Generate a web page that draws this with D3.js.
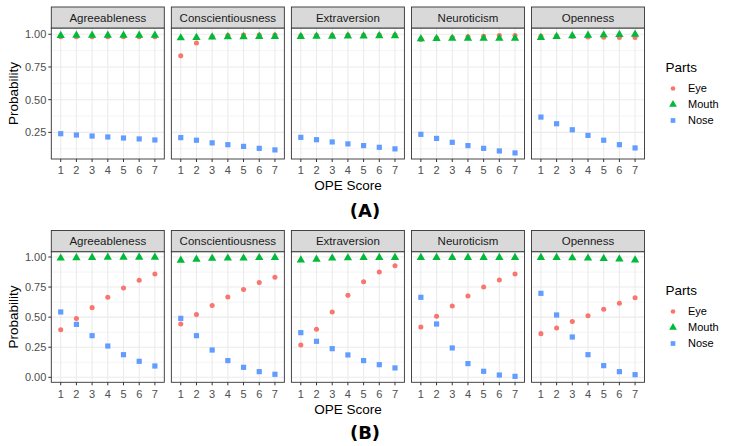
<!DOCTYPE html>
<html><head><meta charset="utf-8">
<script src="https://cdn.jsdelivr.net/npm/d3@7"></script>
<style>body{margin:0;background:#fff}svg{display:block}</style>
</head><body>
<script>
const traits = ["Agreeableness","Conscientiousness","Extraversion","Neuroticism","Openness"];
const scores = ["1","2","3","4","5","6","7"];
const parts = ["Eye","Mouth","Nose"];
const yTicksA = [0.25,0.50,0.75,1.00];
const yTicksB = [0.00,0.25,0.50,0.75,1.00];

// Panel A values [trait][score]
const eyeA = [
  [0.982,0.982,0.982,0.982,0.982,0.982,0.982],
  [0.835,0.934,0.980,0.990,0.995,0.995,0.995],
  [0.988,0.990,0.990,0.992,0.993,0.994,0.995],
  [0.960,0.970,0.975,0.980,0.985,0.990,0.990],
  [0.985,0.985,0.983,0.980,0.978,0.976,0.975]
];
const mouthA = [
  [0.990,0.992,0.992,0.992,0.992,0.992,0.992],
  [0.972,0.975,0.978,0.980,0.980,0.982,0.982],
  [0.982,0.985,0.985,0.987,0.987,0.988,0.988],
  [0.965,0.967,0.968,0.968,0.968,0.968,0.968],
  [0.975,0.982,0.988,0.992,0.995,0.998,1.000]
];
const noseA = [
  [0.240,0.230,0.222,0.215,0.207,0.200,0.192],
  [0.210,0.190,0.170,0.156,0.143,0.128,0.116],
  [0.212,0.194,0.177,0.162,0.149,0.136,0.124],
  [0.235,0.204,0.174,0.149,0.128,0.108,0.093],
  [0.367,0.316,0.270,0.227,0.190,0.156,0.131]
];
// Panel B values
const eyeB = [
  [0.396,0.488,0.579,0.665,0.742,0.806,0.859],
  [0.443,0.521,0.596,0.668,0.729,0.787,0.831],
  [0.269,0.399,0.543,0.681,0.795,0.875,0.928],
  [0.418,0.507,0.593,0.676,0.751,0.809,0.859],
  [0.363,0.410,0.463,0.512,0.565,0.615,0.662]
];
const mouthB = [
  [0.990,0.993,0.995,0.997,0.998,0.998,0.998],
  [0.972,0.980,0.988,0.990,0.990,0.994,0.995],
  [0.975,0.980,0.990,0.992,0.994,0.995,0.996],
  [0.995,0.995,0.995,0.995,0.995,0.995,0.995],
  [0.996,0.995,0.992,0.990,0.986,0.982,0.975]
];
const noseB = [
  [0.543,0.440,0.346,0.260,0.188,0.133,0.094],
  [0.490,0.346,0.227,0.139,0.083,0.047,0.025],
  [0.371,0.299,0.238,0.186,0.139,0.105,0.078],
  [0.665,0.443,0.244,0.114,0.050,0.019,0.008],
  [0.698,0.518,0.335,0.188,0.097,0.047,0.022]
];

const colors = {Eye:"#F8766D", Mouth:"#00BA38", Nose:"#619CFF"};
const W = 733, H = 446;
const svg = d3.select("body").append("svg").attr("width",W).attr("height",H)
  .style("font-family","'Liberation Sans', Arial, Helvetica, sans-serif");

const panelX0 = 51.3, panelW = 113, panelStep = 120.05;

function symbolPath(part, size){
  const t = part==="Eye"?d3.symbolCircle:part==="Mouth"?d3.symbolTriangle:d3.symbolSquare;
  return d3.symbol().type(t).size(size)();
}

function drawBlock(cfg){
  const {top, stripH, bottom, domain, yTicks, data, label, labelY, legendY} = cfg;
  const g = svg.append("g");
  const y = d3.scaleLinear().domain(domain).range([bottom, top+stripH]);
  const minor = [];
  for(let i=0;i<yTicks.length-1;i++) minor.push((yTicks[i]+yTicks[i+1])/2);
  const lowMinor = yTicks[0]-0.125;
  if(lowMinor>domain[0]) minor.push(lowMinor);

  traits.forEach((tr,ti)=>{
    const x0 = panelX0 + ti*panelStep;
    const x = d3.scalePoint().domain(scores).range([x0, x0+panelW]).padding(0.6);
    const p = g.append("g");
    p.append("rect").attr("x",x0).attr("y",top+stripH).attr("width",panelW).attr("height",bottom-top-stripH).attr("fill","#fff");
    // minor grid
    p.selectAll(".mn").data(minor).join("line")
      .attr("x1",x0).attr("x2",x0+panelW).attr("y1",d=>y(d)).attr("y2",d=>y(d))
      .attr("stroke","#EBEBEB").attr("stroke-width",0.55);
    p.selectAll(".mj").data(yTicks).join("line")
      .attr("x1",x0).attr("x2",x0+panelW).attr("y1",d=>y(d)).attr("y2",d=>y(d))
      .attr("stroke","#EBEBEB").attr("stroke-width",1.07);
    p.selectAll(".vx").data(scores).join("line")
      .attr("x1",d=>x(d)).attr("x2",d=>x(d)).attr("y1",top+stripH).attr("y2",bottom)
      .attr("stroke","#EBEBEB").attr("stroke-width",1.07);
    // points
    parts.forEach(pt=>{
      const arr = data[pt][ti];
      const sz = pt==="Mouth"?30:pt==="Nose"?27:20;
      p.selectAll(".pt"+pt).data(arr).join("path")
        .attr("d",symbolPath(pt,sz))
        .attr("transform",(d,i)=>`translate(${x(scores[i])},${y(d)})`)
        .attr("fill",colors[pt]);
    });
    // panel border
    p.append("rect").attr("x",x0).attr("y",top+stripH).attr("width",panelW).attr("height",bottom-top-stripH)
      .attr("fill","none").attr("stroke","#333").attr("stroke-width",0.9);
    // strip
    p.append("rect").attr("x",x0).attr("y",top).attr("width",panelW).attr("height",stripH)
      .attr("fill","#D9D9D9").attr("stroke","#333").attr("stroke-width",0.9);
    p.append("text").attr("x",x0+panelW/2).attr("y",top+stripH/2).attr("dy","0.35em")
      .attr("text-anchor","middle").attr("font-size",11.5).attr("fill","#1A1A1A").text(tr);
    // x axis ticks
    p.selectAll(".xt").data(scores).join("line")
      .attr("x1",d=>x(d)).attr("x2",d=>x(d)).attr("y1",bottom).attr("y2",bottom+3)
      .attr("stroke","#333").attr("stroke-width",1);
    p.selectAll(".xl").data(scores).join("text")
      .attr("x",d=>x(d)).attr("y",bottom+11.5).attr("dy","0.35em").attr("text-anchor","middle")
      .attr("font-size",11).attr("fill","#4D4D4D").text(d=>d);
  });
  // y axis
  g.selectAll(".yt").data(yTicks).join("line")
    .attr("x1",panelX0-3).attr("x2",panelX0).attr("y1",d=>y(d)).attr("y2",d=>y(d))
    .attr("stroke","#333").attr("stroke-width",1);
  g.selectAll(".yl").data(yTicks).join("text")
    .attr("x",panelX0-5).attr("y",d=>y(d)).attr("dy","0.35em").attr("text-anchor","end")
    .attr("font-size",11).attr("fill","#4D4D4D").text(d=>d.toFixed(2));
  const midY = (top+stripH+bottom)/2;
  g.append("text").attr("transform",`translate(13,${midY}) rotate(-90)`).attr("dy","0.35em")
    .attr("text-anchor","middle").attr("font-size",13.5).attr("fill","#000").text("Probability");
  g.append("text").attr("x",panelX0 + (4*panelStep+panelW)/2).attr("y",bottom+26.5).attr("dy","0.35em")
    .attr("text-anchor","middle").attr("font-size",13.5).attr("fill","#000").text("OPE Score");
  g.append("text").attr("x",365).attr("y",labelY).attr("dy","0.35em")
    .attr("text-anchor","middle").attr("font-size",18).attr("font-weight","bold")
    .attr("font-family","'DejaVu Sans', sans-serif").attr("fill","#000").text(label);
  // legend
  const lg = g.append("g");
  lg.append("text").attr("x",665.5).attr("y",legendY).attr("dy","0.35em")
    .attr("font-size",13.5).attr("fill","#000").text("Parts");
  parts.forEach((pt,i)=>{
    const ly = legendY + 21.5 + i*16;
    lg.append("path").attr("d",symbolPath(pt, pt==="Mouth"?26:pt==="Nose"?22:17))
      .attr("transform",`translate(673,${ly})`).attr("fill",colors[pt]);
    lg.append("text").attr("x",688).attr("y",ly).attr("dy","0.35em")
      .attr("font-size",11).attr("fill","#000").text(pt);
  });
}

drawBlock({top:7, stripH:21, bottom:159, domain:[0.0465,1.048], yTicks:yTicksA,
  data:{Eye:eyeA, Mouth:mouthA, Nose:noseA}, label:"(A)", labelY:211, legendY:67});
drawBlock({top:230.5, stripH:21.2, bottom:382.3, domain:[-0.0415,1.044], yTicks:yTicksB,
  data:{Eye:eyeB, Mouth:mouthB, Nose:noseB}, label:"(B)", labelY:433, legendY:290});
</script>
</body></html>
